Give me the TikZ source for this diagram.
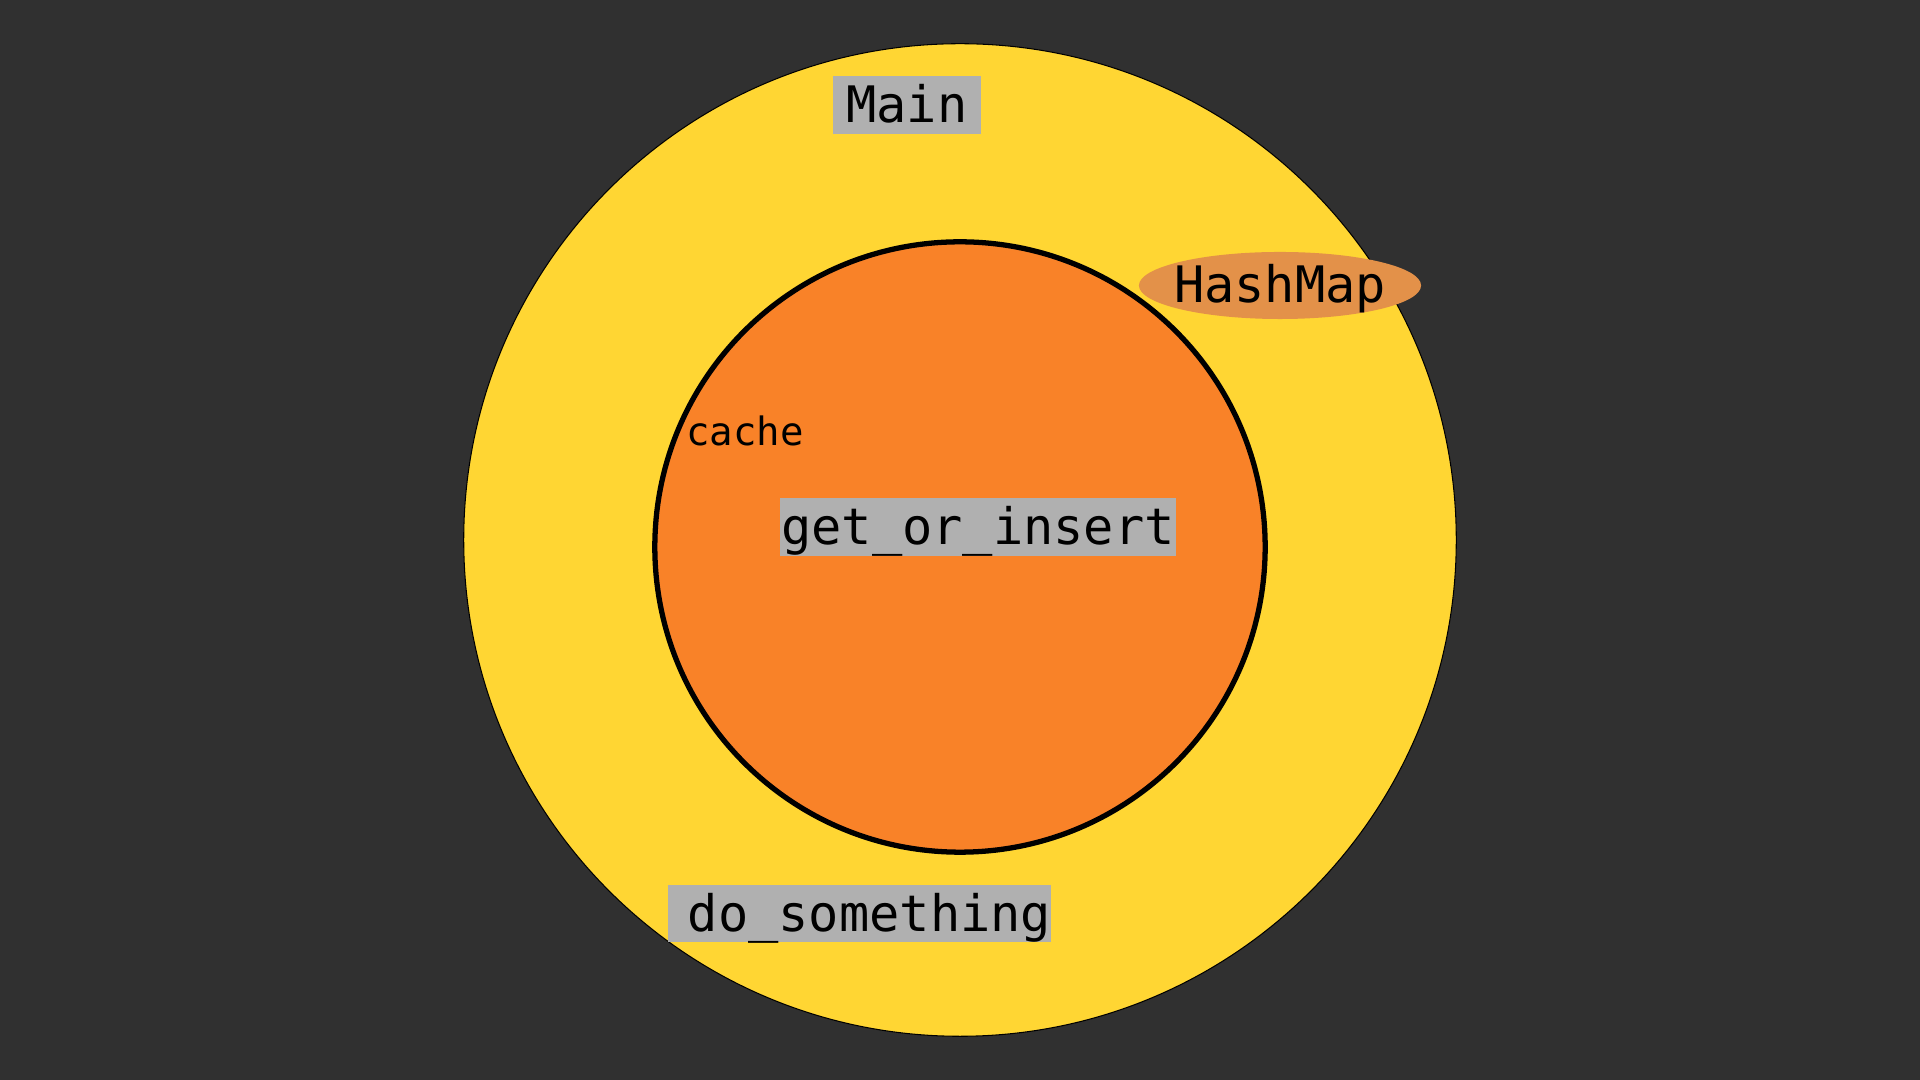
\documentclass[tikz,border=0pt]{standalone}
\usepackage{fontspec}
\setmonofont{DejaVu Sans Mono}
\usetikzlibrary{shapes.geometric}
\definecolor{bgdark}{HTML}{303030}
\definecolor{scopeyellow}{HTML}{FFD633}
\definecolor{fnorange}{HTML}{F98228}
\definecolor{mapbrown}{HTML}{E39149}
\definecolor{boxgray}{HTML}{B0B0B0}
\begin{document}
\begin{tikzpicture}[x=0.01cm, y=-0.01cm,
    scope circle/.style={circle, inner sep=0pt},
    mono text/.style={inner sep=0pt, text height=0.4cm, text depth=0.05cm, font=\ttfamily\fontsize{14.3}{17}\selectfont},
    label box/.style={mono text, fill=boxgray, minimum height=0.57cm}]
        \tikzstyle{every node}=[text=black]
        \fill[bgdark] (0,0) rectangle (1920,1080);
        \useasboundingbox (0,0) rectangle (1920,1080);

          \node[scope circle, fill=scopeyellow, draw=black, line width=0.3pt, minimum size=9.92cm] (main) at (960,540) {};
          \node[scope circle, fill=fnorange, draw=black, line width=1.5pt, minimum size=6.1cm] (getinsert) at (960,547) {};
          \node[ellipse, fill=mapbrown, inner sep=0pt, minimum width=2.82cm, minimum height=0.67cm] (hashmap) at (1280,285.5) {};
          \node[mono text] (hashlbl) at (hashmap) {HashMap};

          \node[label box, minimum width=1.48cm] (mainlbl) at (907,105) {Main};
          \node[label box, minimum width=3.96cm] (getlbl) at (978,527) {get\_or\_insert};
          \node[label box, minimum width=3.83cm] (dolbl) at (859.5,913.5) {\hspace{0.2cm}do\_something};
          \node[inner sep=0pt, text height=0.33cm, text depth=0.05cm, font=\ttfamily\fontsize{11.1}{13}\selectfont] (cache) at (745,432) {cache};

\end{tikzpicture}
\end{document}
